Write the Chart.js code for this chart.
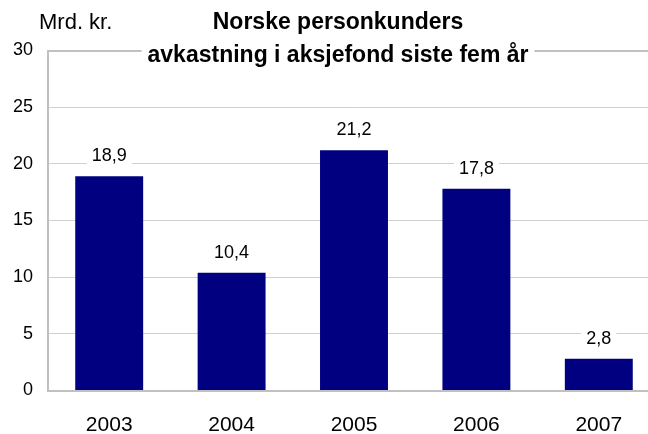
<!DOCTYPE html>
<html>
<head>
<meta charset="utf-8">
<script src="https://cdn.jsdelivr.net/npm/chart.js@4/dist/chart.umd.min.js"></script>
<style>
html,body{margin:0;padding:0;background:#fff;overflow:hidden;}
#wrap{width:648px;height:434px;overflow:hidden;position:relative;}
canvas{display:block;}
</style>
</head>
<body>
<div id="wrap"><canvas id="c" width="660" height="434" style="width:660px;height:434px"></canvas></div>
<script>
const categories = ['2003', '2004', '2005', '2006', '2007'];
const values = [18.9, 10.4, 21.2, 17.8, 2.8];
const valueLabels = ['18,9', '10,4', '21,2', '17,8', '2,8'];
const yTicks = [0, 5, 10, 15, 20, 25, 30];
const titleLines = ['Norske personkunders', 'avkastning i aksjefond siste fem år'];
const unitLabel = 'Mrd. kr.';

const FONT = '"Liberation Sans", Arial, sans-serif';

const overlayPlugin = {
  id: 'overlay',
  afterDatasetsDraw(chart) {
    const ctx = chart.ctx;
    const meta = chart.getDatasetMeta(0);
    ctx.save();
    ctx.font = '18px ' + FONT;
    ctx.textAlign = 'center';
    ctx.textBaseline = 'alphabetic';
    meta.data.forEach((bar, i) => {
      const txt = valueLabels[i];
      const w = ctx.measureText(txt).width;
      const by = bar.y - 15;
      ctx.fillStyle = '#ffffff';
      ctx.fillRect(bar.x - w / 2 - 5, by - 15, w + 10, 20);
      ctx.fillStyle = '#000000';
      ctx.fillText(txt, bar.x, by);
    });
    ctx.restore();
  },
  afterDraw(chart) {
    const ctx = chart.ctx;
    ctx.save();
    // unit label
    ctx.font = '22px ' + FONT;
    ctx.fillStyle = '#000000';
    ctx.textAlign = 'left';
    ctx.textBaseline = 'alphabetic';
    ctx.fillText(unitLabel, 39, 29);
    // title
    ctx.font = 'bold 23px ' + FONT;
    ctx.textAlign = 'center';
    const cx = 338;
    const w2 = ctx.measureText(titleLines[1]).width;
    ctx.fillStyle = '#ffffff';
    ctx.fillRect(cx - w2 / 2 - 6, 40, w2 + 12, 28);
    ctx.fillStyle = '#000000';
    ctx.fillText(titleLines[0], cx, 29);
    ctx.fillText(titleLines[1], cx, 62);
    ctx.restore();
  }
};

new Chart(document.getElementById('c'), {
  type: 'bar',
  data: {
    labels: categories,
    datasets: [{
      data: values,
      backgroundColor: '#000080',
      borderWidth: 0,
      categoryPercentage: 1,
      barPercentage: 0.555
    }]
  },
  options: {
    responsive: false,
    animation: false,
    devicePixelRatio: 1,
    layout: { padding: { top: 50.5, left: 0, right: 0, bottom: 0 } },
    plugins: {
      legend: { display: false },
      title: { display: false },
      tooltip: { enabled: false }
    },
    scales: {
      x: {
        grid: { display: false, drawTicks: false },
        border: { display: true, color: '#c0c0c0', width: 2 },
        ticks: {
          color: '#000000',
          font: { family: FONT, size: 21 },
          padding: 22,
          maxRotation: 0
        },
        afterFit(scale) { scale.height = 43.5; }
      },
      y: {
        min: 0,
        max: 30,
        afterBuildTicks(scale) { scale.ticks = yTicks.map(v => ({ value: v })); },
        grid: {
          drawTicks: false,
          color: (c) => (c.tick && c.tick.value === 30) ? '#c0c0c0' : '#d0d0d0',
          lineWidth: (c) => (c.tick && c.tick.value === 30) ? 2 : 1
        },
        border: { display: true, color: '#c0c0c0', width: 2 },
        ticks: {
          color: '#000000',
          font: { family: FONT, size: 18 },
          padding: 15
        },
        afterFit(scale) { scale.width = 48; }
      }
    }
  },
  plugins: [overlayPlugin]
});
</script>
</body>
</html>
